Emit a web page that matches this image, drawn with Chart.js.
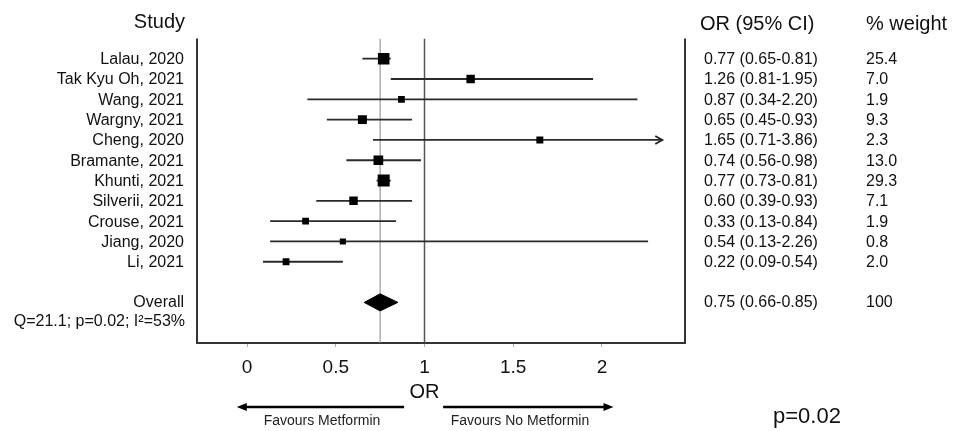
<!DOCTYPE html>
<html>
<head>
<meta charset="utf-8">
<script src="https://cdn.jsdelivr.net/npm/chart.js@4.4.0/dist/chart.umd.min.js"></script>
<style>
  html, body { margin: 0; padding: 0; background: #fff; }
</style>
</head>
<body>
<canvas id="chart" width="963" height="431"></canvas>
<script>
// study-level data
const studies = ['Lalau, 2020', 'Tak Kyu Oh, 2021', 'Wang, 2021', 'Wargny, 2021', 'Cheng, 2020',
                 'Bramante, 2021', 'Khunti, 2021', 'Silverii, 2021', 'Crouse, 2021', 'Jiang, 2020', 'Li, 2021'];
const orValues = [0.77, 1.26, 0.87, 0.65, 1.65, 0.74, 0.77, 0.60, 0.33, 0.54, 0.22];
const ciLower  = [0.65, 0.81, 0.34, 0.45, 0.71, 0.56, 0.73, 0.39, 0.13, 0.13, 0.09];
const ciUpper  = [0.81, 1.95, 2.20, 0.93, 3.86, 0.98, 0.81, 0.93, 0.84, 2.26, 0.54];
const weights  = [25.4, 7.0, 1.9, 9.3, 2.3, 13.0, 29.3, 7.1, 1.9, 0.8, 2.0];

const overallOR = 0.75;
const overallLower = 0.66;
const overallUpper = 0.85;
const overallWeight = '100';
const heterogeneity = 'Q=21.1; p=0.02; I\u00B2=53%';
const pValueText = 'p=0.02';

const tickValues = [0, 0.5, 1, 1.5, 2];
const nullValue = 1;

// axis window and clipping point for CIs running off the plot
const xMin = -0.282, xMax = 2.468;
const arrowLimit = 2.34;
const rowCount = 15;
const overallRow = studies.length + 2;

const rows = studies.map((s, i) => i + 1);

// whiskers as one broken line
const ciPoints = [];
studies.forEach((s, i) => {
    ciPoints.push({ x: ciLower[i], y: rows[i] });
    ciPoints.push({ x: Math.min(ciUpper[i], arrowLimit), y: rows[i] });
    ciPoints.push({ x: null, y: null });
});

const squareSide = w => 5 + 1.3 * Math.sqrt(w);

const diamondHalf = 0.42;
const diamond = [
    { x: overallLower, y: overallRow },
    { x: overallOR, y: overallRow - diamondHalf },
    { x: overallUpper, y: overallRow },
    { x: overallOR, y: overallRow + diamondHalf },
    { x: overallLower, y: overallRow }
];

const textPlugin = {
    id: 'forestText',
    beforeDatasetsDraw(chart) {
        const { ctx, chartArea: a } = chart;
        ctx.save();
        ctx.strokeStyle = '#333';
        ctx.lineWidth = 2;
        ctx.beginPath();
        ctx.moveTo(a.left, a.top);
        ctx.lineTo(a.left, a.bottom);
        ctx.moveTo(a.right, a.top);
        ctx.lineTo(a.right, a.bottom);
        ctx.stroke();
        ctx.restore();
    },
    afterDraw(chart) {
        const { ctx, chartArea: a, scales: { x, y } } = chart;
        const font = (px) => px + 'px "Liberation Sans", Arial, sans-serif';
        const labelRight = a.left - 13;
        const orCol = 704, weightCol = 866;
        ctx.save();
        ctx.fillStyle = '#111';

        // headers
        ctx.font = font(20);
        ctx.textBaseline = 'alphabetic';
        ctx.textAlign = 'right';
        ctx.fillText('Study', labelRight + 1, 28);
        ctx.textAlign = 'left';
        ctx.fillText('OR (95% CI)', 700, 30);
        ctx.fillText('% weight', weightCol, 30);

        // rows
        ctx.font = font(16);
        ctx.textBaseline = 'middle';
        studies.forEach((s, i) => {
            const py = y.getPixelForValue(rows[i]) + 1;
            ctx.textAlign = 'right';
            ctx.fillText(s, labelRight, py);
            ctx.textAlign = 'left';
            ctx.fillText(orValues[i].toFixed(2) + ' (' + ciLower[i].toFixed(2) + '-' + ciUpper[i].toFixed(2) + ')', orCol, py);
            ctx.fillText(weights[i].toFixed(1), weightCol, py);
        });
        const oy = y.getPixelForValue(overallRow);
        ctx.textAlign = 'right';
        ctx.fillText('Overall', labelRight, oy);
        ctx.fillText(heterogeneity, labelRight + 1, oy + 19);
        ctx.textAlign = 'left';
        ctx.fillText(overallOR.toFixed(2) + ' (' + overallLower.toFixed(2) + '-' + overallUpper.toFixed(2) + ')', orCol, oy);
        ctx.fillText(overallWeight, weightCol, oy);

        // arrowhead for CI beyond the window
        ctx.strokeStyle = '#222';
        ctx.lineWidth = 1.8;
        studies.forEach((s, i) => {
            if (ciUpper[i] > arrowLimit) {
                const ax = x.getPixelForValue(arrowLimit), ay = y.getPixelForValue(rows[i]);
                ctx.beginPath();
                ctx.moveTo(ax - 7, ay - 4);
                ctx.lineTo(ax, ay);
                ctx.lineTo(ax - 7, ay + 4);
                ctx.stroke();
            }
        });

        // axis title
        const nx = x.getPixelForValue(nullValue);
        ctx.font = font(20);
        ctx.textAlign = 'center';
        ctx.textBaseline = 'alphabetic';
        ctx.fillText('OR', nx, 398);

        // favours arrows
        const arrowY = 407;
        const drawArrow = (from, to) => {
            const dir = Math.sign(to - from);
            ctx.beginPath();
            ctx.moveTo(from, arrowY);
            ctx.lineTo(to - dir * 8, arrowY);
            ctx.lineWidth = 2.5;
            ctx.strokeStyle = '#000';
            ctx.stroke();
            ctx.beginPath();
            ctx.moveTo(to, arrowY);
            ctx.lineTo(to - dir * 10, arrowY - 4);
            ctx.lineTo(to - dir * 10, arrowY + 4);
            ctx.closePath();
            ctx.fillStyle = '#000';
            ctx.fill();
        };
        drawArrow(x.getPixelForValue(0.885), x.getPixelForValue(-0.058));
        drawArrow(x.getPixelForValue(1.105), x.getPixelForValue(2.065));

        ctx.fillStyle = '#222';
        ctx.font = font(14);
        ctx.textBaseline = 'middle';
        ctx.fillText('Favours Metformin', 322, 421);
        ctx.fillText('Favours No Metformin', 520, 421);

        ctx.fillStyle = '#111';
        ctx.font = font(22);
        ctx.textAlign = 'left';
        ctx.textBaseline = 'alphabetic';
        ctx.fillText(pValueText, 773, 423);
        ctx.restore();
    }
};

Chart.defaults.font.family = '"Liberation Sans", Arial, sans-serif';
Chart.defaults.color = '#111';

new Chart(document.getElementById('chart'), {
    type: 'scatter',
    data: {
        datasets: [
            {
                label: 'Study OR',
                data: studies.map((s, i) => ({ x: orValues[i], y: rows[i] })),
                pointStyle: 'rect',
                pointRadius: weights.map(w => squareSide(w) / Math.SQRT2),
                backgroundColor: '#000',
                borderWidth: 0
            },
            {
                label: 'Overall',
                data: diamond,
                showLine: true,
                fill: 'shape',
                backgroundColor: '#000',
                borderColor: '#000',
                borderWidth: 1,
                pointRadius: 0,
                tension: 0
            },
            {
                label: '95% CI',
                data: ciPoints,
                showLine: true,
                spanGaps: false,
                borderColor: '#2a2a2a',
                borderWidth: 1.8,
                pointRadius: 0
            },
            {
                label: 'Null line',
                data: [{ x: nullValue, y: 0 }, { x: nullValue, y: rowCount }],
                showLine: true,
                borderColor: '#555',
                borderWidth: 1.5,
                pointRadius: 0
            },
            {
                label: 'Overall line',
                data: [{ x: overallOR, y: 0 }, { x: overallOR, y: rowCount }],
                showLine: true,
                borderColor: '#999',
                borderWidth: 1.2,
                pointRadius: 0
            }
        ]
    },
    options: {
        responsive: false,
        animation: false,
        events: [],
        layout: { padding: { left: 197, right: 278, top: 38.4, bottom: 0 } },
        scales: {
            x: {
                type: 'linear',
                min: xMin,
                max: xMax,
                afterBuildTicks: axis => { axis.ticks = tickValues.map(v => ({ value: v })); },
                afterFit: axis => { axis.height = 88; },
                ticks: {
                    font: { size: 19 },
                    color: '#111',
                    padding: 9,
                    callback: v => String(v)
                },
                grid: { drawOnChartArea: false, drawTicks: true, tickLength: 4, color: '#aaa' },
                border: { display: true, color: '#333', width: 2 }
            },
            y: {
                type: 'linear',
                min: 0,
                max: rowCount,
                reverse: true,
                display: false
            }
        },
        plugins: {
            legend: { display: false },
            tooltip: { enabled: false }
        }
    },
    plugins: [textPlugin]
});
</script>
</body>
</html>
